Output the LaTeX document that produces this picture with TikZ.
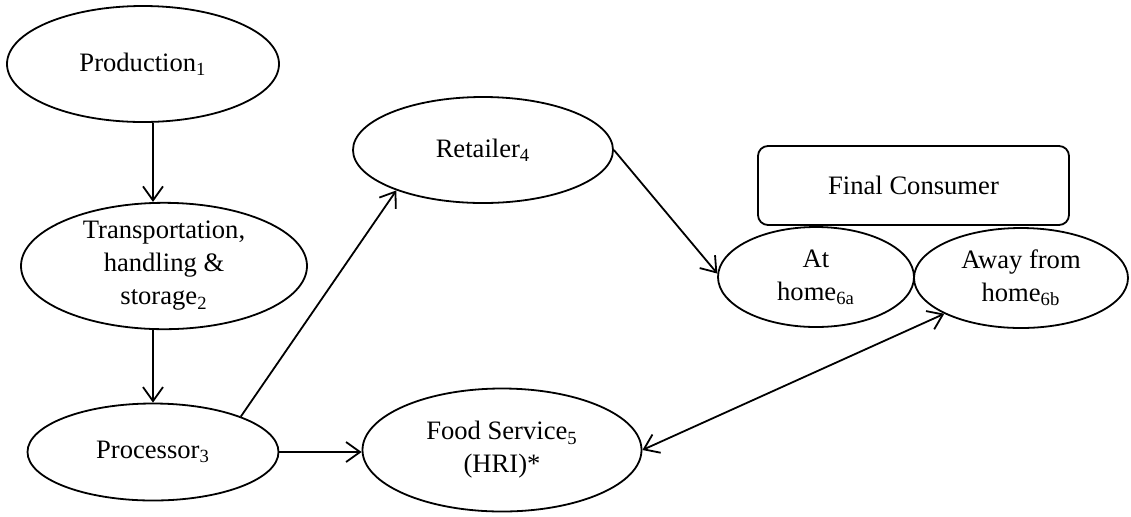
\documentclass[tikz,border=0pt]{standalone}
\usepackage{fontspec}
\setmainfont{Liberation Serif}
\usetikzlibrary{shapes.geometric,arrows.meta}
\begin{document}
\begin{tikzpicture}[x=0.5pt,y=-0.5pt,
  ell/.style={draw, ellipse, line width=0.9pt, inner sep=0pt, align=center, font=\fontsize{13.3}{16.5}\selectfont},
  cbox/.style={draw, rounded corners=5pt, line width=0.9pt, inner sep=0pt, align=center, font=\fontsize{13.3}{16.5}\selectfont},
  conn/.style={line width=0.9pt, -{Straight Barb[length=7pt,width=10pt]}},
  dconn/.style={line width=0.9pt, {Straight Barb[length=7pt,width=10pt]}-{Straight Barb[length=7pt,width=10pt]}},
]
\useasboundingbox (0,0) rectangle (1131,516);
\node[ell, minimum width=136pt, minimum height=58pt] (prod) at (143,64) {Production\textsubscript{1}};
\node[ell, minimum width=143pt, minimum height=56.5pt] (trans) at (164,266) {Transportation,\\handling \&\\storage\textsubscript{2}};
\node[ell, minimum width=125.5pt, minimum height=48.5pt] (proc) at (153,452) {Processor\textsubscript{3}};
\node[ell, minimum width=130pt, minimum height=53pt] (ret) at (483,150) {Retailer\textsubscript{4}};
\node[ell, minimum width=139.5pt, minimum height=61.5pt] (food) at (502,450) {Food Service\textsubscript{5}\\(HRI)*};
\node[cbox, minimum width=155.5pt, minimum height=39.5pt] (final) at (913.5,185.5) {Final Consumer};
\node[ell, minimum width=98pt, minimum height=50pt] (home) at (816,277) {At\\home\textsubscript{6a}};
\node[ell, minimum width=107pt, minimum height=50pt] (away) at (1021,278) {Away from\\home\textsubscript{6b}};

\draw[conn] (prod.south -| proc.north) -- (trans.north -| proc.north);
\draw[conn] (trans.south -| proc.north) -- (proc.north);
\draw[conn] (proc.22) -- (ret.205);
\draw[conn] (proc.east) -- (food.west |- proc.east);
\draw[conn] (ret.east) -- (home.178);
\draw[dconn] (food.east) -- (away.205);
\end{tikzpicture}
\end{document}
